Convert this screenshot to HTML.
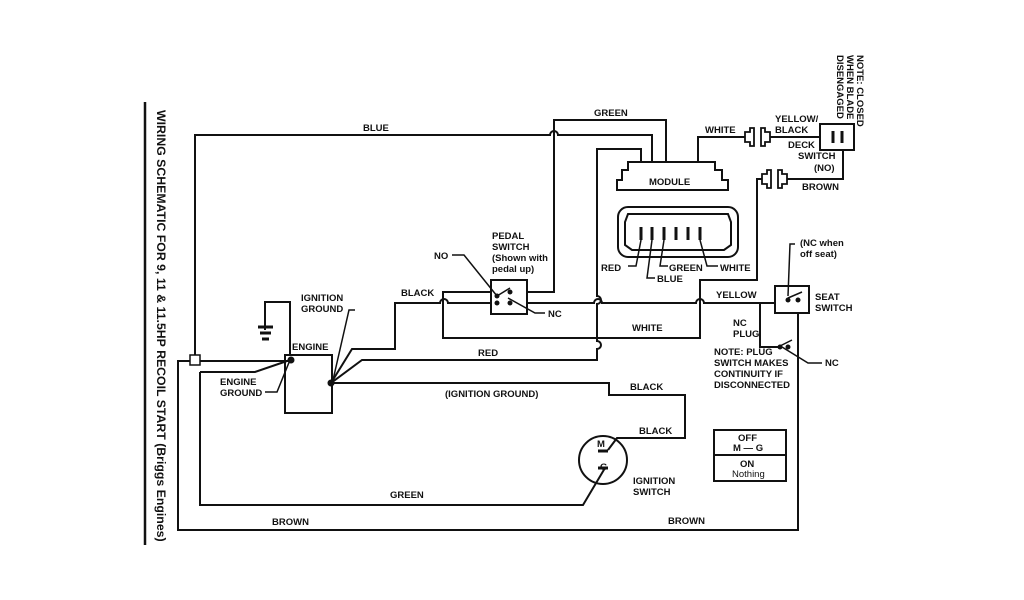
<!DOCTYPE html>
<html><head><meta charset="utf-8"><style>
html,body{margin:0;padding:0;background:#fff;width:1024px;height:600px;overflow:hidden}
svg text{font-family:"Liberation Sans",Arial,sans-serif;font-weight:bold;font-size:9.5px;fill:#111}
</style></head><body>
<svg width="1024" height="600" viewBox="0 0 1024 600" xmlns="http://www.w3.org/2000/svg">
<g fill="none" stroke="#111" stroke-width="2">
<line x1="145" y1="102" x2="145" y2="545" stroke-width="2.5"/>
<path d="M195 355 V135 H550 a4 4 0 0 1 8 0 H652 V162"/>
<path d="M527 292 H554 V120 H666 V162"/>
<path d="M331 383 L362 360 H597 V349 a4 4 0 0 0 0 -8 V304 a4 4 0 0 0 0 -8 V149 H641 V162"/>
<path d="M698 162 V137 H745"/>
<path d="M745 132 h5 v-4 h4 v18 h-4 v-4 h-5z" stroke-width="1.8"/>
<path d="M770 132 h-5 v-4 h-4 v18 h4 v-4 h5z" stroke-width="1.8"/>
<path d="M770 137 H820"/>
<rect x="820" y="124" width="34" height="26"/>
<line x1="833" y1="131" x2="833" y2="143" stroke-width="3"/>
<line x1="842" y1="131" x2="842" y2="143" stroke-width="3"/>
<path d="M843 150 V179 H787"/>
<path d="M762 174 h5 v-4 h4 v18 h-4 v-4 h-5z" stroke-width="1.8"/>
<path d="M787 174 h-5 v-4 h-4 v18 h4 v-4 h5z" stroke-width="1.8"/>
<path d="M762 179 H757 V280 H700 V338 H443 V292 H491"/>
<path d="M331 383 L352 349 H395 V303 H440 a4 4 0 0 1 8 0 H491"/>
<path d="M527 303 H594 a4 4 0 0 1 8 0 H696 a4 4 0 0 1 8 0 H775"/>
<rect x="491" y="280" width="36" height="34"/>
<rect x="775" y="286" width="34" height="27"/>
<path d="M798 313 V530 H178 V361 H290"/>
<path d="M760 302 V347 H778"/>
<rect x="285" y="355" width="47" height="58"/>
<path d="M265 330 V302 H290 V355"/>
<path d="M200 372 V505 H583 L605 468"/>
<path d="M200 372 H255 L290 360"/>
<path d="M331 383 H609 V395 H685 V438 H617 L608 450"/>
<circle cx="603" cy="460" r="24"/>
<path d="M628 162 H715 V170 H722 V180 H728 V190 H617 V180 H622 V170 H628 Z"/>
<rect x="618" y="207" width="120" height="50" rx="10"/>
<path d="M628 214 H728 L731 222 V245 L724 250 H632 L625 245 V222 Z"/>
<rect x="714" y="430" width="72" height="51"/>
<line x1="714" y1="455" x2="786" y2="455"/>
</g>
<g stroke="#111" stroke-width="3">
<line x1="641" y1="227" x2="641" y2="240"/><line x1="652" y1="227" x2="652" y2="240"/>
<line x1="664" y1="227" x2="664" y2="240"/><line x1="676" y1="227" x2="676" y2="240"/>
<line x1="688" y1="227" x2="688" y2="240"/><line x1="700" y1="227" x2="700" y2="240"/>
<line x1="258" y1="327" x2="273" y2="327"/><line x1="260" y1="333" x2="271" y2="333"/><line x1="262" y1="339" x2="269" y2="339"/>
<line x1="598" y1="451" x2="608" y2="451"/><line x1="598" y1="468" x2="608" y2="468"/>
</g>
<g fill="none" stroke="#111" stroke-width="1.5">
<path d="M641 240 L636 266 H628"/><path d="M652 240 L647 278 H655"/><path d="M664 240 L660 266 H668"/><path d="M700 240 L707 266 H718"/>
<path d="M452 255 H464 L497 296"/><path d="M545 313 H535 L508 298"/>
<path d="M795 244 H790 L788 296"/><path d="M822 363 H808 L782 347"/>
<path d="M355 310 H349 L333 380"/><path d="M265 392 H277 L290 360"/>
<path d="M497 296 L510 288"/><path d="M788 298 L802 292"/><path d="M778 347 L792 340"/>
</g>
<g fill="#111">
<circle cx="497" cy="296" r="2.5"/><circle cx="510" cy="292" r="2.5"/><circle cx="497" cy="303" r="2.5"/><circle cx="510" cy="303" r="2.5"/>
<circle cx="788" cy="300" r="2.5"/><circle cx="798" cy="300" r="2.5"/><circle cx="780" cy="347" r="2.5"/><circle cx="788" cy="347" r="2.5"/>
<circle cx="291" cy="360" r="3.5"/><circle cx="331" cy="383" r="3.5"/>
</g>
<rect x="190" y="355" width="10" height="10" fill="#fff" stroke="#111" stroke-width="1.5"/>
<text x="157" y="110" transform="rotate(90 157 110)" style="font-size:12.3px">WIRING SCHEMATIC FOR 9, 11 &amp; 11.5HP RECOIL START (Briggs Engines)</text>
<text x="857" y="55" transform="rotate(90 857 55)">NOTE: CLOSED</text>
<text x="847" y="55" transform="rotate(90 847 55)">WHEN BLADE</text>
<text x="837" y="55" transform="rotate(90 837 55)">DISENGAGED</text>
<text x="363" y="131">BLUE</text>
<text x="594" y="116">GREEN</text>
<text x="705" y="133">WHITE</text>
<text x="775" y="122">YELLOW/</text>
<text x="775" y="133">BLACK</text>
<text x="788" y="148">DECK</text>
<text x="798" y="159">SWITCH</text>
<text x="814" y="171">(NO)</text>
<text x="802" y="190">BROWN</text>
<text x="649" y="185">MODULE</text>
<text x="601" y="271">RED</text>
<text x="669" y="271">GREEN</text>
<text x="720" y="271">WHITE</text>
<text x="657" y="282">BLUE</text>
<text x="492" y="239">PEDAL</text>
<text x="492" y="250">SWITCH</text>
<text x="492" y="261">(Shown with</text>
<text x="492" y="272">pedal up)</text>
<text x="434" y="259">NO</text>
<text x="548" y="317">NC</text>
<text x="401" y="296">BLACK</text>
<text x="301" y="301">IGNITION</text>
<text x="301" y="312">GROUND</text>
<text x="292" y="350">ENGINE</text>
<text x="220" y="385">ENGINE</text>
<text x="220" y="396">GROUND</text>
<text x="478" y="356">RED</text>
<text x="445" y="397">(IGNITION GROUND)</text>
<text x="632" y="331">WHITE</text>
<text x="716" y="298">YELLOW</text>
<text x="800" y="246">(NC when</text>
<text x="800" y="257">off seat)</text>
<text x="815" y="300">SEAT</text>
<text x="815" y="311">SWITCH</text>
<text x="733" y="326">NC</text>
<text x="733" y="337">PLUG</text>
<text x="825" y="366">NC</text>
<text x="714" y="355">NOTE: PLUG</text>
<text x="714" y="366">SWITCH MAKES</text>
<text x="714" y="377">CONTINUITY IF</text>
<text x="714" y="388">DISCONNECTED</text>
<text x="630" y="390">BLACK</text>
<text x="639" y="434">BLACK</text>
<text x="597" y="447">M</text>
<text x="600" y="470">G</text>
<text x="633" y="484">IGNITION</text>
<text x="633" y="495">SWITCH</text>
<text x="390" y="498">GREEN</text>
<text x="272" y="525">BROWN</text>
<text x="668" y="524">BROWN</text>
<text x="738" y="441">OFF</text>
<text x="733" y="451">M — G</text>
<text x="740" y="467">ON</text>
<text x="732" y="477" style="font-weight:normal">Nothing</text>
</svg>
</body></html>
